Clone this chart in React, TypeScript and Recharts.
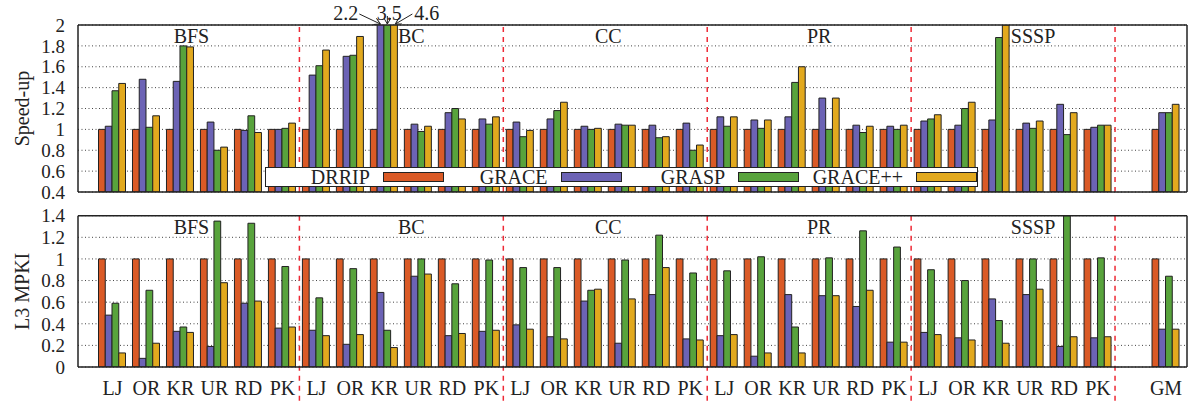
import React from "react";
import { BarChart, Bar, XAxis, YAxis, CartesianGrid, ReferenceLine, ReferenceDot, Legend } from "recharts";

const benchmarks = ["BFS", "BC", "CC", "PR", "SSSP"];
const graphs = ["LJ", "OR", "KR", "UR", "RD", "PK"];
const seriesNames = ["DRRIP", "GRACE", "GRASP", "GRACE++"];
const seriesColors = ["#DA5A26", "#6C63B5", "#58A33C", "#E2A91E"];

const speedupTicks = [0.4, 0.6, 0.8, 1, 1.2, 1.4, 1.6, 1.8, 2];
const mpkiTicks = [0, 0.2, 0.4, 0.6, 0.8, 1, 1.2, 1.4];

// per benchmark: LJ OR KR UR RD PK, then gap, then GM
const drripSpeedup = [
  1, 1, 1, 1, 1, 1, 1, 1, 1, 1, 1, 1, 1, 1, 1, 1, 1, 1,
  1, 1, 1, 1, 1, 1, 1, 1, 1, 1, 1, 1, null, 1,
];
const graceSpeedup = [
  1.03, 1.48, 1.46, 1.07, 0.99, 1.0,
  1.52, 1.7, 2.2, 1.05, 1.16, 1.1,
  1.07, 1.1, 1.03, 1.05, 1.04, 1.06,
  1.12, 1.09, 1.12, 1.3, 1.04, 1.03,
  1.08, 1.04, 1.09, 1.06, 1.24, 1.02,
  null, 1.16,
];
const graspSpeedup = [
  1.37, 1.02, 1.8, 0.8, 1.13, 1.01,
  1.61, 1.71, 3.5, 0.98, 1.2, 1.05,
  0.93, 1.18, 1.0, 1.04, 0.92, 0.8,
  1.03, 1.01, 1.45, 1.0, 0.97, 1.0,
  1.1, 1.2, 1.88, 1.01, 0.95, 1.04,
  null, 1.16,
];
const gracePlusSpeedup = [
  1.44, 1.13, 1.79, 0.83, 0.97, 1.06,
  1.76, 1.89, 4.6, 1.03, 1.1, 1.12,
  0.99, 1.26, 1.01, 1.04, 0.93, 0.85,
  1.12, 1.09, 1.6, 1.3, 1.03, 1.04,
  1.14, 1.26, 2.0, 1.08, 1.16, 1.04,
  null, 1.24,
];

const drripMpki = [
  1, 1, 1, 1, 1, 1, 1, 1, 1, 1, 1, 1, 1, 1, 1, 1, 1, 1,
  1, 1, 1, 1, 1, 1, 1, 1, 1, 1, 1, 1, null, 1,
];
const graceMpki = [
  0.48, 0.08, 0.33, 0.19, 0.59, 0.36,
  0.34, 0.21, 0.69, 0.84, 0.29, 0.33,
  0.39, 0.28, 0.61, 0.22, 0.67, 0.26,
  0.29, 0.1, 0.67, 0.66, 0.56, 0.23,
  0.32, 0.27, 0.63, 0.67, 0.19, 0.27,
  null, 0.35,
];
const graspMpki = [
  0.59, 0.71, 0.37, 1.35, 1.33, 0.93,
  0.64, 0.91, 0.34, 1.0, 0.77, 0.99,
  0.92, 0.92, 0.71, 0.99, 1.22, 0.87,
  0.89, 1.02, 0.37, 1.01, 1.26, 1.11,
  0.9, 0.8, 0.43, 1.0, 1.4, 1.01,
  null, 0.84,
];
const gracePlusMpki = [
  0.13, 0.22, 0.32, 0.78, 0.61, 0.37,
  0.29, 0.3, 0.18, 0.86, 0.31, 0.34,
  0.35, 0.26, 0.72, 0.63, 0.92, 0.25,
  0.3, 0.13, 0.13, 0.66, 0.71, 0.23,
  0.3, 0.25, 0.22, 0.72, 0.28, 0.28,
  null, 0.35,
];

// label nudges so the benchmark names sit where the original put them
const benchLabelDx = [-6, 10, 3, 10, 20];

const categories = benchmarks
  .flatMap((b) => graphs.map((g) => `${b}-${g}`))
  .concat(["gap", "GM"]);

const buildRows = (cols: (number | null)[][]) =>
  categories.map((key, i) => {
    const row: Record<string, any> = { key };
    seriesNames.forEach((name, s) => {
      row[name] = cols[s][i];
    });
    return row;
  });

const speedupRows = buildRows([drripSpeedup, graceSpeedup, graspSpeedup, gracePlusSpeedup]);
const mpkiRows = buildRows([drripMpki, graceMpki, graspMpki, gracePlusMpki]);

const FONT = '"Liberation Serif", "Times New Roman", serif';
const INK = "#222";
const frame = { stroke: INK, strokeWidth: 1.5 };
const xPadding = { left: 17.5, right: 4 };
const sepColor = "#EE2A35";

const formatTick = (key: string) => (key === "gap" ? "" : key.split("-").pop());

const AxisTitle = (props: any) => {
  const { viewBox, value } = props;
  const cy = viewBox.y + viewBox.height / 2;
  return (
    <text
      transform={`translate(22, ${cy}) rotate(-90)`}
      textAnchor="middle"
      dominantBaseline="central"
      fontSize={20}
      fill={INK}
      fontFamily={FONT}
    >
      {value}
    </text>
  );
};

const benchLabel = (name: string, dx: number) => (p: any) =>
  (
    <text x={p.cx + 17 + dx} y={p.cy + 18} textAnchor="middle" fontSize={20} fill={INK} fontFamily={FONT}>
      {name}
    </text>
  );

// values of BC/KR that run off the top of the speed-up panel
const bcKrIndex = categories.indexOf("BC-KR");
const overflow = [graceSpeedup, graspSpeedup, gracePlusSpeedup].map((s) => (s[bcKrIndex] as number).toFixed(1));

const OverflowNote = (p: any) => {
  const { cx, cy } = p;
  return (
    <g fontFamily={FONT} fontSize={20} fill={INK}>
      <defs>
        <marker id="ah" markerWidth="7" markerHeight="7" refX="6" refY="3.5" orient="auto">
          <path d="M0,0 L6,3.5 L0,7" fill="none" stroke={INK} strokeWidth={1} />
        </marker>
      </defs>
      <text x={cx - 26} y={cy - 5} textAnchor="end">{overflow[0]}</text>
      <text x={cx + 5} y={cy - 5} textAnchor="middle">{overflow[1]}</text>
      <text x={cx + 30} y={cy - 5} textAnchor="start">{overflow[2]}</text>
      <line x1={cx - 25} y1={cy - 11} x2={cx - 4} y2={cy - 1} stroke={INK} markerEnd="url(#ah)" />
      <line x1={cx + 3} y1={cy - 9} x2={cx + 3} y2={cy - 1} stroke={INK} markerEnd="url(#ah)" />
      <line x1={cx + 28} y1={cy - 11} x2={cx + 11} y2={cy - 1} stroke={INK} markerEnd="url(#ah)" />
    </g>
  );
};

// legend keeps the series order (recharts would sort it by name)
const LegendBox = () => (
  <div
    style={{
      width: 713,
      height: 20,
      boxSizing: "border-box",
      border: `1px solid ${INK}`,
      background: "#fff",
      display: "flex",
      fontFamily: FONT,
      fontSize: 20,
      color: INK,
      lineHeight: "18px",
    }}
  >
    {seriesNames.map((name, i) => (
      <div key={name} style={{ width: 178, display: "flex", alignItems: "center" }}>
        <span style={{ flex: 1, textAlign: "right", marginRight: 13 }}>{name}</span>
        <span
          style={{
            width: 61,
            height: 10,
            boxSizing: "border-box",
            background: seriesColors[i],
            border: `1px solid ${INK}`,
          }}
        />
      </div>
    ))}
  </div>
);

const renderBars = () =>
  seriesNames.map((name, i) => (
    <Bar
      key={name}
      dataKey={name}
      fill={seriesColors[i]}
      stroke={INK}
      strokeWidth={1}
      barSize={6.75}
      isAnimationActive={false}
    />
  ));

const renderFrameAxes = (domain: number[], ticks: number[]) => [
  <XAxis
    key="xt"
    xAxisId="top"
    orientation="top"
    dataKey="key"
    mirror
    tick={false}
    tickLine={false}
    axisLine={frame}
    padding={xPadding}
  />,
  <YAxis
    key="yin"
    yAxisId="in"
    mirror
    domain={domain}
    ticks={ticks}
    interval={0}
    tick={false}
    axisLine={false}
    tickSize={5}
    tickLine={{ stroke: INK }}
  />,
  <YAxis
    key="yr"
    yAxisId="r"
    orientation="right"
    mirror
    domain={domain}
    ticks={ticks}
    interval={0}
    tick={false}
    axisLine={frame}
    tickSize={5}
    tickLine={{ stroke: INK }}
  />,
];

export default function App() {
  return (
    <div
      style={{
        position: "absolute",
        left: 0,
        top: 0,
        width: 1194,
        height: 402,
        background: "#fff",
        fontFamily: FONT,
      }}
    >
      <div style={{ position: "absolute", left: 0, top: 0 }}>
        <BarChart
          width={1194}
          height={212}
          data={speedupRows}
          margin={{ top: 25, right: 7, bottom: 20, left: 0 }}
          barGap={0}
        >
          <CartesianGrid vertical={false} stroke="#444" strokeDasharray="1 2.5" />
          <XAxis dataKey="key" mirror tick={false} tickLine={false} axisLine={frame} padding={xPadding} />
          <YAxis
            domain={[0.4, 2]}
            ticks={speedupTicks}
            interval={0}
            allowDataOverflow
            width={78}
            tickLine={false}
            tickSize={0}
            tickMargin={13}
            axisLine={frame}
            tick={{ fontSize: 19, fill: INK }}
            label={<AxisTitle value="Speed-up" />}
          />
          {renderFrameAxes([0.4, 2], speedupTicks)}
          {renderBars()}
          {benchmarks.map((b) => (
            <ReferenceLine
              key={`sep-${b}`}
              x={`${b}-PK`}
              position="end"
              stroke={sepColor}
              strokeWidth={1.5}
              strokeDasharray="5 5"
            />
          ))}
          {benchmarks.map((b, i) => (
            <ReferenceDot
              key={`lbl-${b}`}
              x={`${b}-KR`}
              y={2}
              r={0}
              ifOverflow="visible"
              shape={benchLabel(b, benchLabelDx[i])}
            />
          ))}
          <ReferenceDot x="BC-KR" y={2} r={0} ifOverflow="visible" shape={OverflowNote} />
          <Legend
            content={<LegendBox />}
            layout="vertical"
            align="center"
            verticalAlign="middle"
            wrapperStyle={{ left: 265, top: 167, width: 713, height: 20 }}
          />
        </BarChart>
      </div>

      <div style={{ position: "absolute", left: 0, top: 200 }}>
        <BarChart
          width={1194}
          height={202}
          data={mpkiRows}
          margin={{ top: 15.7, right: 7, bottom: 0, left: 0 }}
          barGap={0}
        >
          <CartesianGrid vertical={false} stroke="#444" strokeDasharray="1 2.5" />
          <XAxis
            dataKey="key"
            height={35}
            tickLine={false}
            tickSize={0}
            tickMargin={14}
            axisLine={frame}
            padding={xPadding}
            interval={0}
            tickFormatter={formatTick}
            tick={{ fontSize: 20, fill: INK }}
          />
          <YAxis
            domain={[0, 1.4]}
            ticks={mpkiTicks}
            interval={0}
            allowDataOverflow
            width={78}
            tickLine={false}
            tickSize={0}
            tickMargin={13}
            axisLine={frame}
            tick={{ fontSize: 19, fill: INK }}
            label={<AxisTitle value="L3 MPKI" />}
          />
          {renderFrameAxes([0, 1.4], mpkiTicks)}
          {renderBars()}
          {benchmarks.map((b) => (
            <ReferenceLine
              key={`sep-${b}`}
              segment={[
                { x: `${b}-PK`, y: 1.4 },
                { x: `${b}-PK`, y: -0.33 },
              ]}
              position="end"
              ifOverflow="visible"
              stroke={sepColor}
              strokeWidth={1.5}
              strokeDasharray="5 5"
            />
          ))}
          {benchmarks.map((b, i) => (
            <ReferenceDot
              key={`lbl-${b}`}
              x={`${b}-KR`}
              y={1.4}
              r={0}
              ifOverflow="visible"
              shape={benchLabel(b, benchLabelDx[i])}
            />
          ))}
        </BarChart>
      </div>
    </div>
  );
}
